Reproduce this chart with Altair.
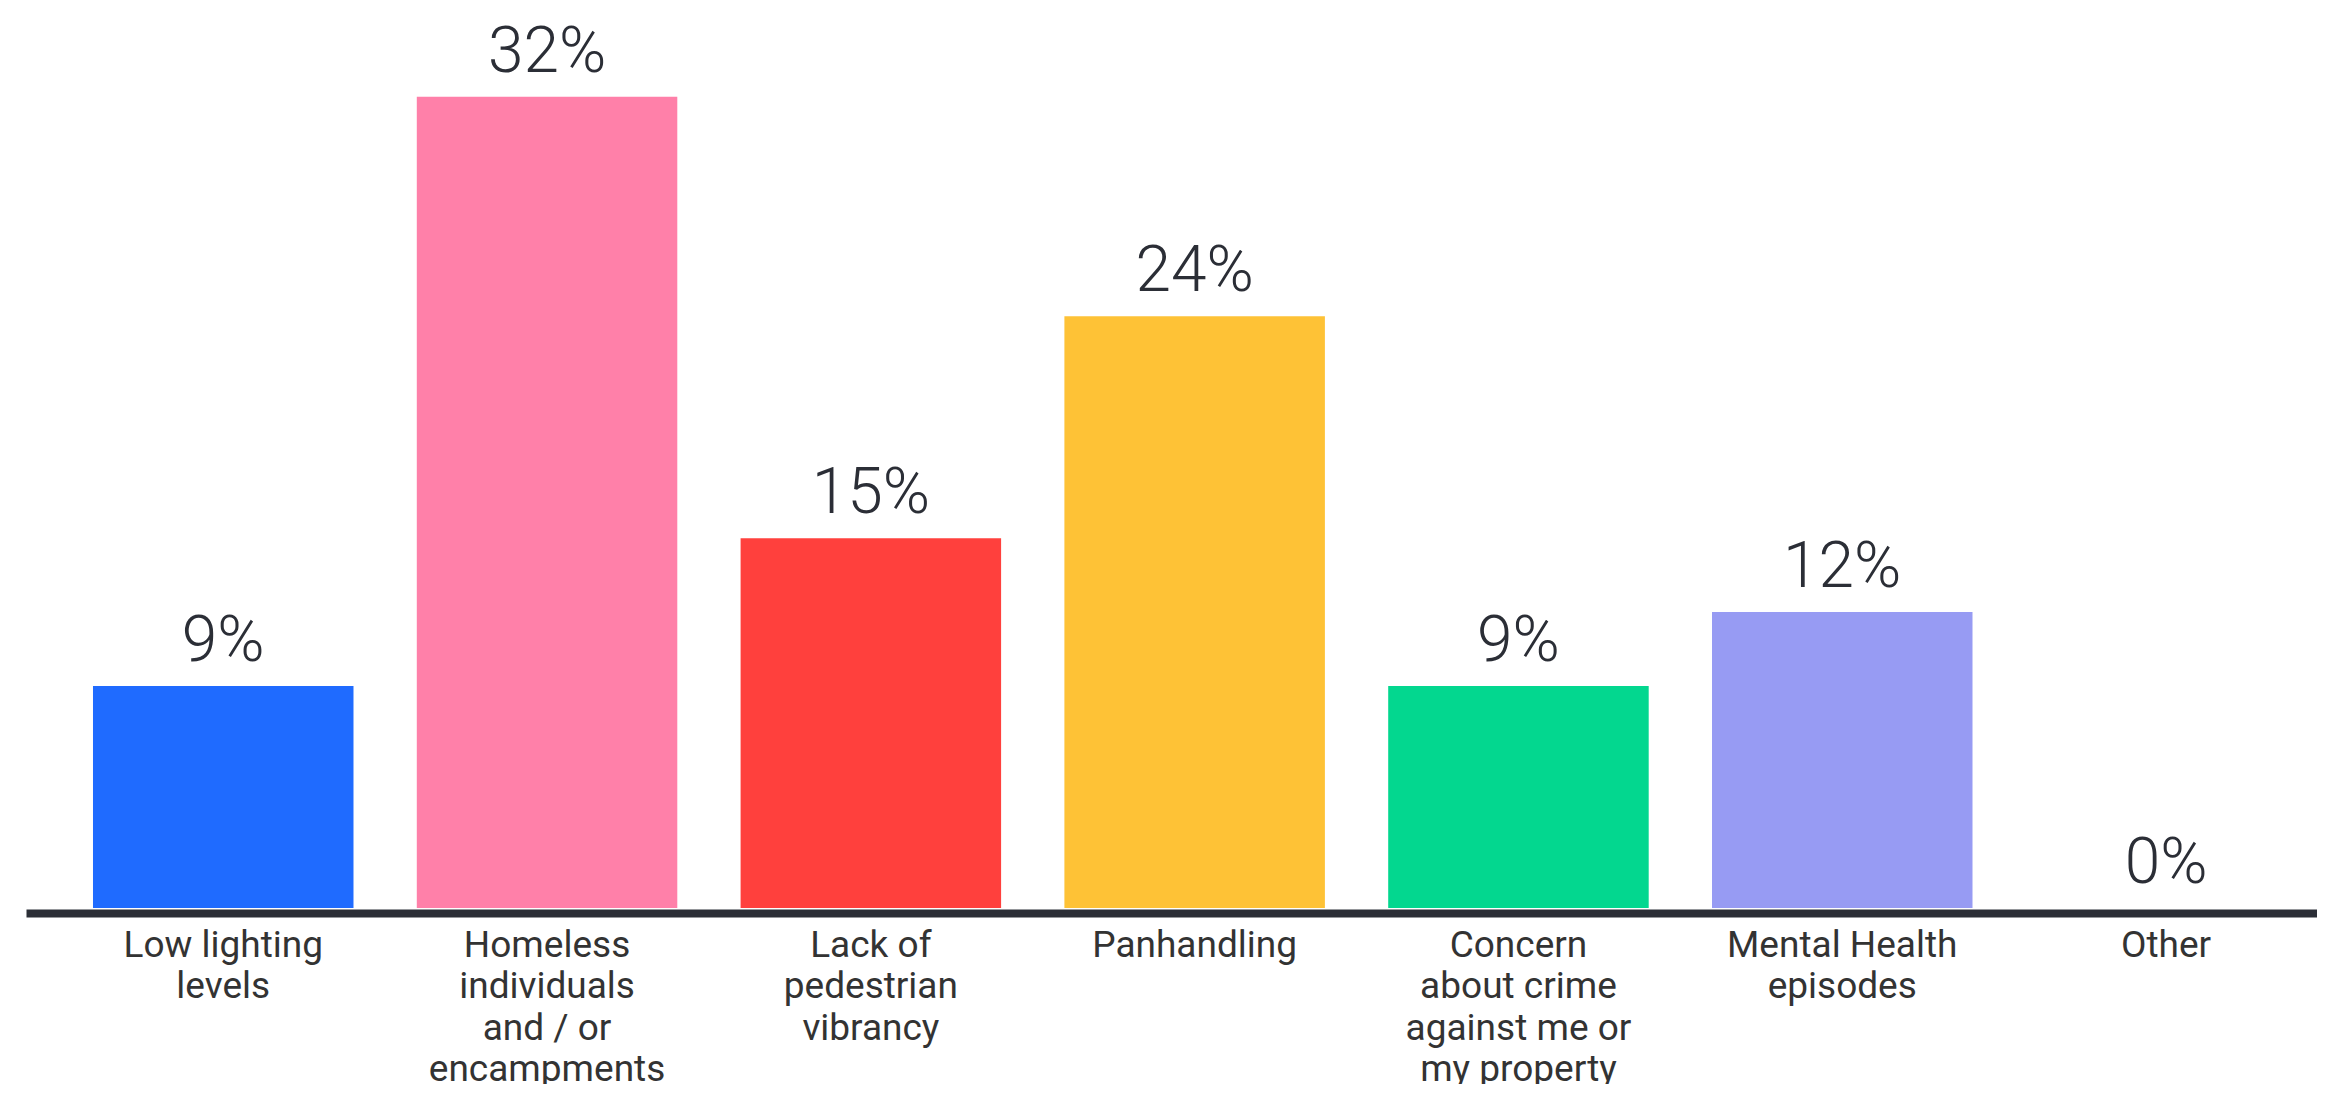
import altair as alt
import pandas as pd

categories = [
    "Low lighting\nlevels",
    "Homeless\nindividuals\nand / or\nencampments",
    "Lack of\npedestrian\nvibrancy",
    "Panhandling",
    "Concern\nabout crime\nagainst me or\nmy property",
    "Mental Health\nepisodes",
    "Other",
]
# bar heights as drawn in the reference (percent)
shares = [9, 32.9, 15, 24, 9, 12, 0]
# printed value labels
labels = ["9%", "32%", "15%", "24%", "9%", "12%", "0%"]
colors = ["#1f6bff", "#ff80a9", "#ff403d", "#fec236", "#03d78f", "#979bf3", "#bbbbbb"]

df = pd.DataFrame({"category": categories, "share": shares, "label": labels})

x = alt.X(
    "category:N",
    sort=None,
    scale=alt.Scale(paddingInner=0.1955, paddingOuter=0.1354, align=0.764),
    axis=alt.Axis(
        title=None,
        labelExpr="split(datum.label, '\\n')",
        labelAngle=0,
        labelAlign="center",
        labelFontSize=37,
        labelFont="Roboto",
        labelColor="#333333",
        labelLineHeight=41.5,
        labelBaseline="alphabetic",
        labelPadding=43,
        labelLimit=600,
        ticks=False,
        tickSize=0,
        domainColor="#2b2e36",
        domainWidth=8,
        offset=5,
    ),
)
y = alt.Y("share:Q", scale=alt.Scale(domain=[0, 36.5]), axis=None)

bars = alt.Chart(df).mark_bar().encode(
    x=x,
    y=y,
    color=alt.Color("category:N", sort=None, scale=alt.Scale(domain=categories, range=colors), legend=None),
)

text = alt.Chart(df).mark_text(
    dy=-25, baseline="alphabetic", fontSize=64, font="Roboto", fontWeight=300, color="#2b2e36"
).encode(x=x, y=y, text="label:N")

chart = (
    alt.layer(bars, text)
    .properties(
        width=2291,
        height=900,
        padding={"left": 18, "top": 0, "right": 0, "bottom": 176},
        autosize=alt.AutoSizeParams(type="none"),
        background="white",
    )
    .configure_view(stroke=None)
)

chart.save("out.html", embed_options={"renderer": "svg", "actions": False})
